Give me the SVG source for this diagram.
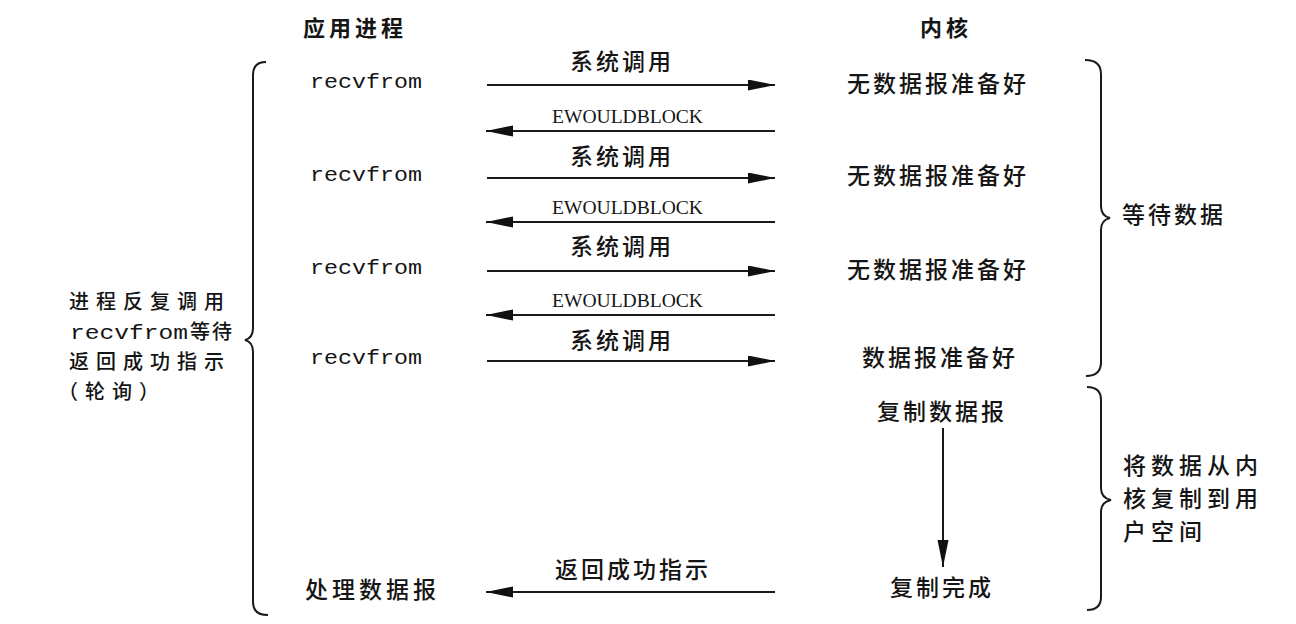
<svg xmlns="http://www.w3.org/2000/svg" width="1296" height="624" viewBox="0 0 1296 624">
<style>
.cjk{font-family:"Noto Sans CJK SC","Noto Sans",sans-serif;font-size:23px;font-weight:500;fill:#151515;letter-spacing:3px}
.note{font-size:20px;letter-spacing:7px}
.hdr{font-weight:bold}
.mono{font-family:"Liberation Mono","DejaVu Sans Mono",monospace;font-size:20px;fill:#151515}
.err{font-family:"Liberation Serif",serif;font-size:18px;fill:#151515}
.ln{stroke:#1a1a1a;stroke-width:2;fill:none}
.brace{stroke:#1a1a1a;stroke-width:2;fill:none}
</style>
<defs>
<marker id="ah" markerUnits="userSpaceOnUse" markerWidth="28" markerHeight="12" refX="27" refY="5.5" orient="auto">
<path d="M0,0 L27,5.5 L0,11 Z" fill="#111"/>
</marker>
</defs>
<rect width="1296" height="624" fill="#fff"/>

<g id="headers">
<text class="cjk hdr" x="303" y="36" style="font-size:22px;letter-spacing:4px">应用进程</text>
<text class="cjk hdr" x="920" y="36" style="font-size:22px;letter-spacing:4px">内核</text>
</g>

<g id="app">
<text class="mono" x="310" y="88" textLength="112" lengthAdjust="spacingAndGlyphs">recvfrom</text>
<text class="mono" x="310" y="181" textLength="112" lengthAdjust="spacingAndGlyphs">recvfrom</text>
<text class="mono" x="310" y="274" textLength="112" lengthAdjust="spacingAndGlyphs">recvfrom</text>
<text class="mono" x="310" y="364" textLength="112" lengthAdjust="spacingAndGlyphs">recvfrom</text>
<text class="cjk" x="305" y="598" style="letter-spacing:4px">处理数据报</text>
</g>

<g id="kernel">
<text class="cjk" x="847" y="92">无数据报准备好</text>
<text class="cjk" x="847" y="184">无数据报准备好</text>
<text class="cjk" x="847" y="278">无数据报准备好</text>
<text class="cjk" x="862" y="366">数据报准备好</text>
<text class="cjk" x="877" y="420">复制数据报</text>
<text class="cjk" x="890" y="596">复制完成</text>
</g>

<g id="left-note">
<path class="brace" d="M266,62 Q253,62 253,75 L253,328 Q253,338 245,340 Q253,342 253,352 L253,602 Q253,615 268,615"/>
<text class="cjk note" x="69" y="309">进程反复调用</text>
<text class="mono" x="70" y="339" textLength="118" lengthAdjust="spacingAndGlyphs">recvfrom</text>
<text class="cjk note" x="190" y="339" style="letter-spacing:2px">等待</text>
<text class="cjk note" x="69" y="369">返回成功指示</text>
<text class="cjk note" x="58" y="399">（轮询）</text>
</g>

<g id="wait-note">
<path class="brace" d="M1085,60 Q1101,60 1101,74 L1101,206 Q1101,216 1110,218 Q1101,220 1101,230 L1101,362 Q1101,376 1086,376"/>
<text class="cjk" x="1122" y="223">等待数据</text>
</g>

<g id="copy-note">
<path class="brace" d="M1087,387 Q1101,387 1101,400 L1101,488 Q1101,498 1111,500 Q1101,502 1101,512 L1101,597 Q1101,610 1087,610"/>
<text class="cjk" x="1123" y="474" style="letter-spacing:5px">将数据从内</text>
<text class="cjk" x="1123" y="507" style="letter-spacing:5px">核复制到用</text>
<text class="cjk" x="1123" y="540" style="letter-spacing:5px">户空间</text>
</g>

<g id="connectors">
<line class="ln" x1="487" y1="85" x2="775" y2="85" marker-end="url(#ah)"/>
<line class="ln" x1="775" y1="131" x2="486" y2="131" marker-end="url(#ah)"/>
<line class="ln" x1="487" y1="178" x2="775" y2="178" marker-end="url(#ah)"/>
<line class="ln" x1="775" y1="222" x2="486" y2="222" marker-end="url(#ah)"/>
<line class="ln" x1="487" y1="271" x2="775" y2="271" marker-end="url(#ah)"/>
<line class="ln" x1="775" y1="315" x2="486" y2="315" marker-end="url(#ah)"/>
<line class="ln" x1="487" y1="361" x2="775" y2="361" marker-end="url(#ah)"/>
<line class="ln" x1="775" y1="592" x2="486" y2="592" marker-end="url(#ah)"/>
<line class="ln" x1="943" y1="428" x2="943" y2="567" marker-end="url(#ah)"/>
<text class="cjk" x="570" y="70">系统调用</text>
<text class="err" x="552" y="123" textLength="151" lengthAdjust="spacingAndGlyphs">EWOULDBLOCK</text>
<text class="cjk" x="570" y="165">系统调用</text>
<text class="err" x="552" y="214" textLength="151" lengthAdjust="spacingAndGlyphs">EWOULDBLOCK</text>
<text class="cjk" x="570" y="255">系统调用</text>
<text class="err" x="552" y="307" textLength="151" lengthAdjust="spacingAndGlyphs">EWOULDBLOCK</text>
<text class="cjk" x="570" y="349">系统调用</text>
<text class="cjk" x="555" y="578">返回成功指示</text>
</g>
</svg>
